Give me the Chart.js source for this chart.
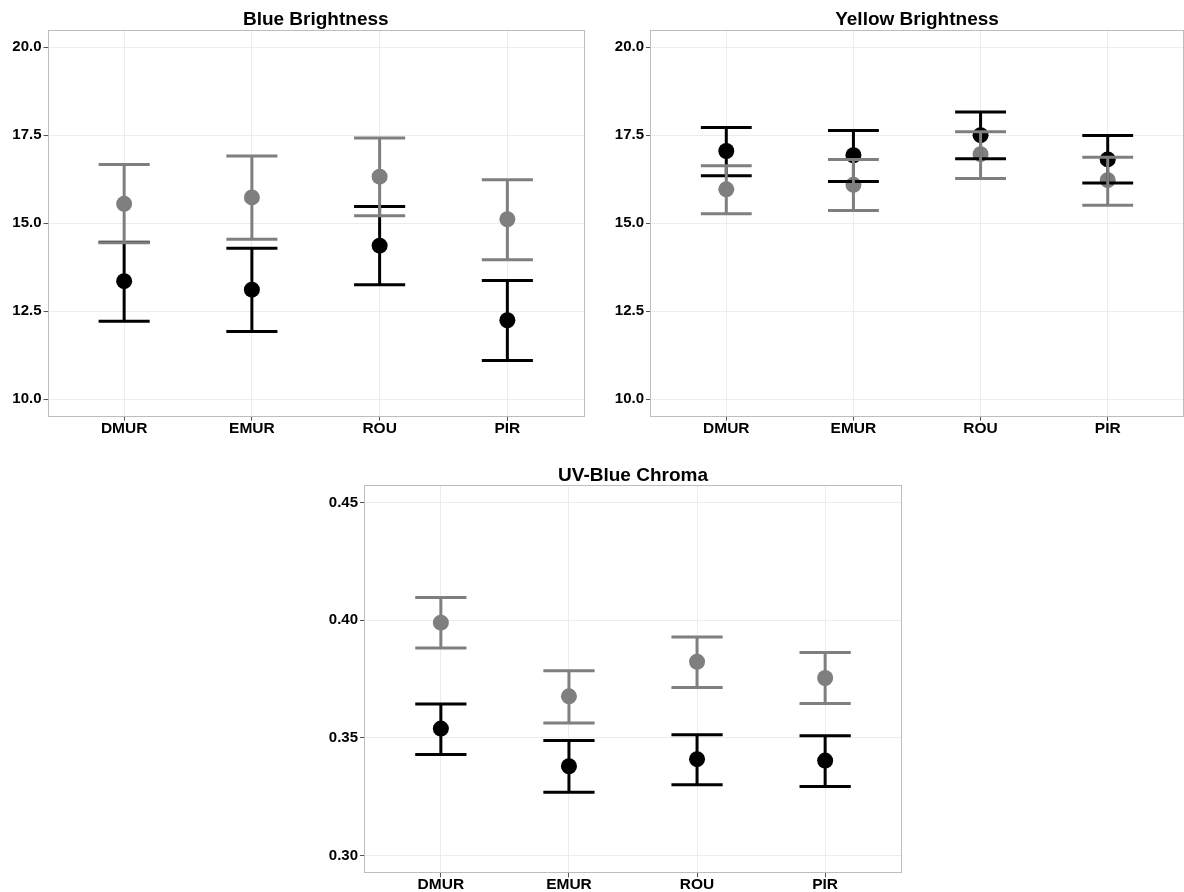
<!DOCTYPE html>
<html>
<head>
<meta charset="utf-8">
<script src="https://cdn.jsdelivr.net/npm/chart.js@4.4.1/dist/chart.umd.min.js"></script>
<style>
html,body{margin:0;padding:0;background:#fff;overflow:hidden;width:1184px;height:892px;}
.pane{position:absolute;}
canvas{display:block;}
</style>
</head>
<body>
<div class="pane" style="left:0px;top:0px;width:592px;height:450px"><canvas id="c1" width="592" height="450" style="width:592px;height:450px"></canvas></div>
<div class="pane" style="left:592px;top:0px;width:600px;height:450px"><canvas id="c2" width="600" height="450" style="width:600px;height:450px"></canvas></div>
<div class="pane" style="left:300px;top:455px;width:610px;height:437px"><canvas id="c3" width="610" height="437" style="width:610px;height:437px"></canvas></div>
<script>
// ---------- data ----------
const categories = ['DMUR', 'EMUR', 'ROU', 'PIR'];

const brightTicks = [10, 12.5, 15, 17.5, 20];
const brightTickLabels = ['10.0', '12.5', '15.0', '17.5', '20.0'];
const chromaTicks = [0.30, 0.35, 0.40, 0.45];
const chromaTickLabels = ['0.30', '0.35', '0.40', '0.45'];

// Blue Brightness
const blueGreyMean  = [15.55, 15.73, 16.32, 15.11];
const blueGreyLow   = [14.44, 14.54, 15.21, 13.96];
const blueGreyHigh  = [16.67, 16.91, 17.42, 16.23];
const blueBlackMean = [13.35, 13.11, 14.36, 12.24];
const blueBlackLow  = [12.21, 11.92, 13.25, 11.10];
const blueBlackHigh = [14.46, 14.29, 15.47, 13.37];

// Yellow Brightness
const yellowGreyMean  = [15.96, 16.09, 16.96, 16.22];
const yellowGreyLow   = [15.27, 15.36, 16.27, 15.51];
const yellowGreyHigh  = [16.63, 16.81, 17.60, 16.87];
const yellowBlackMean = [17.05, 16.93, 17.50, 16.81];
const yellowBlackLow  = [16.35, 16.18, 16.83, 16.14];
const yellowBlackHigh = [17.72, 17.63, 18.16, 17.49];

// UV-Blue Chroma
const uvGreyMean  = [0.3990, 0.3677, 0.3824, 0.3755];
const uvGreyLow   = [0.3882, 0.3564, 0.3714, 0.3646];
const uvGreyHigh  = [0.4097, 0.3786, 0.3929, 0.3863];
const uvBlackMean = [0.3540, 0.3380, 0.3410, 0.3404];
const uvBlackLow  = [0.3430, 0.3269, 0.3301, 0.3294];
const uvBlackHigh = [0.3644, 0.3489, 0.3514, 0.3510];

// ---------- styling ----------
const GREY = '#7f7f7f';
const BLACK = '#000000';
const FONT = "'Liberation Sans', Arial, Helvetica, sans-serif";

const panelBorder = {
  id: 'panelBorder',
  beforeDatasetsDraw(chart) {
    const a = chart.chartArea, ctx = chart.ctx;
    ctx.save();
    ctx.strokeStyle = '#bdbdbd';
    ctx.lineWidth = 1;
    ctx.strokeRect(Math.round(a.left) + 0.5, Math.round(a.top) + 0.5,
      Math.round(a.right - a.left) - 1, Math.round(a.bottom - a.top) - 1);
    ctx.restore();
  }
};

const errorBars = {
  id: 'errorBars',
  afterDatasetsDraw(chart) {
    const ctx = chart.ctx, xs = chart.scales.x, ys = chart.scales.y;
    const order = [1, 0]; // black first, then grey on top
    ctx.save();
    ctx.lineWidth = 3;
    ctx.lineCap = 'butt';
    order.forEach(di => {
      const ds = chart.data.datasets[di];
      ctx.strokeStyle = ds.barColor;
      ds.data.forEach((p, i) => {
        const x = xs.getPixelForValue(p.x);
        const xl = xs.getPixelForValue(p.x - 0.2);
        const xr = xs.getPixelForValue(p.x + 0.2);
        const yl = ys.getPixelForValue(ds.errLow[i]);
        const yh = ys.getPixelForValue(ds.errHigh[i]);
        ctx.beginPath();
        ctx.moveTo(x, yl); ctx.lineTo(x, yh);
        ctx.moveTo(xl, yl); ctx.lineTo(xr, yl);
        ctx.moveTo(xl, yh); ctx.lineTo(xr, yh);
        ctx.stroke();
      });
    });
    ctx.restore();
  }
};

function makeChart(id, title, greyMean, greyLow, greyHigh, blackMean, blackLow, blackHigh,
                   yMin, yMax, yTicks, yTickLabels, geo) {
  const toPts = arr => arr.map((v, i) => ({ x: i, y: v }));
  return new Chart(document.getElementById(id), {
    type: 'scatter',
    data: {
      datasets: [
        { label: 'grey', data: toPts(greyMean), errLow: greyLow, errHigh: greyHigh,
          barColor: GREY, backgroundColor: GREY, borderColor: GREY, pointRadius: 8, borderWidth: 0 },
        { label: 'black', data: toPts(blackMean), errLow: blackLow, errHigh: blackHigh,
          barColor: BLACK, backgroundColor: BLACK, borderColor: BLACK, pointRadius: 8, borderWidth: 0 }
      ]
    },
    options: {
      responsive: false,
      devicePixelRatio: 1,
      animation: false,
      layout: { padding: { left: 0, right: geo.padRight, top: 0, bottom: 0 } },
      plugins: {
        legend: { display: false },
        tooltip: { enabled: false },
        title: {
          display: true, text: title, fullSize: false, color: '#000',
          font: { family: FONT, size: 19, weight: 'bold', lineHeight: 1 },
          padding: { top: geo.titleTop, bottom: 0 }
        }
      },
      scales: {
        x: {
          type: 'linear', min: -0.6, max: 3.6,
          afterBuildTicks: s => { s.ticks = categories.map((c, i) => ({ value: i })); },
          afterFit: s => { s.height = geo.xHeight; },
          grid: { color: '#ececec', lineWidth: 1, drawTicks: true, tickLength: 4, tickColor: '#555' },
          border: { display: false },
          ticks: {
            callback: v => categories[v], color: '#000', padding: 0, maxRotation: 0, autoSkip: false,
            font: { family: FONT, size: 15.5, weight: 'bold', lineHeight: 1 }
          }
        },
        y: {
          type: 'linear', min: yMin, max: yMax,
          afterBuildTicks: s => { s.ticks = yTicks.map(v => ({ value: v })); },
          afterFit: s => { s.width = geo.yWidth; },
          grid: { color: '#ececec', lineWidth: 1, drawTicks: true, tickLength: 4, tickColor: '#555' },
          border: { display: false },
          ticks: {
            callback: v => yTickLabels[yTicks.indexOf(v)], color: '#000', padding: 2, autoSkip: false,
            font: { family: FONT, size: 15, weight: 'bold', lineHeight: 1 }
          }
        }
      }
    },
    plugins: [panelBorder, errorBars]
  });
}

makeChart('c1', 'Blue Brightness',
  blueGreyMean, blueGreyLow, blueGreyHigh, blueBlackMean, blueBlackLow, blueBlackHigh,
  9.5, 20.5, brightTicks, brightTickLabels,
  { yWidth: 47.5, xHeight: 33.3, padRight: 7, titleTop: 10.6 });

makeChart('c2', 'Yellow Brightness',
  yellowGreyMean, yellowGreyLow, yellowGreyHigh, yellowBlackMean, yellowBlackLow, yellowBlackHigh,
  9.5, 20.5, brightTicks, brightTickLabels,
  { yWidth: 58, xHeight: 33.3, padRight: 7, titleTop: 10.6 });

makeChart('c3', 'UV-Blue Chroma',
  uvGreyMean, uvGreyLow, uvGreyHigh, uvBlackMean, uvBlackLow, uvBlackHigh,
  0.2925, 0.4575, chromaTicks, chromaTickLabels,
  { yWidth: 64, xHeight: 18.7, padRight: 6.5, titleTop: 11 });
</script>
</body>
</html>
